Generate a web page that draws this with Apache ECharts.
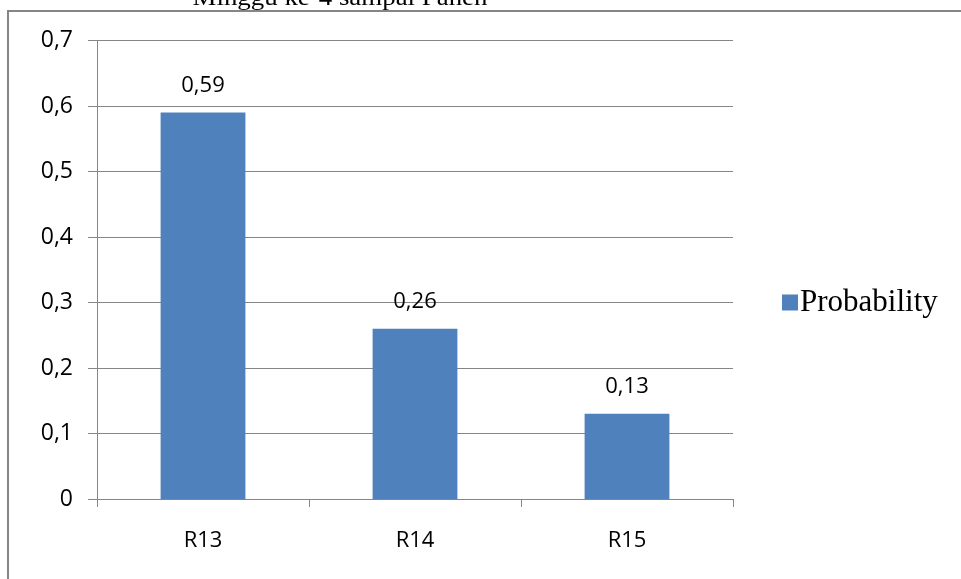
<!DOCTYPE html>
<html>
<head>
<meta charset="utf-8">
<title>Probability</title>
<script src="https://cdn.jsdelivr.net/npm/echarts@6/dist/echarts.min.js"></script>
<style>
  html, body { margin: 0; padding: 0; background: #ffffff; }
  #chart { width: 961px; height: 579px; }
</style>
</head>
<body>
<div id="chart"></div>
<script>
// Chart data
const categories = ['R13', 'R14', 'R15'];
const probability = [0.59, 0.26, 0.13];
const yTicks = [0, 0.1, 0.2, 0.3, 0.4, 0.5, 0.6, 0.7];
const titleText = 'Minggu ke-4 sampai Panen';
const seriesName = 'Probability';

const gray = '#868686';
const barColor = '#4F81BD';
const sansFont = '"Open Sans", "Noto Sans", sans-serif';
const serifFont = '"Liberation Serif", "DejaVu Serif", serif';

// decimal comma formatting
const fmt = v => String(Math.round(v * 100) / 100).replace('.', ',');

const chart = echarts.init(document.getElementById('chart'), null, { renderer: 'canvas' });

chart.setOption({
  backgroundColor: '#ffffff',
  animation: false,
  graphic: [
    {
      type: 'rect',
      silent: true,
      shape: { x: 8, y: 11, width: 1200, height: 1200 },
      style: { fill: 'none', stroke: gray, lineWidth: 2 },
      z: 0
    },
    {
      type: 'text',
      silent: true,
      x: 340,
      y: 11,
      scaleX: 1.12,
      style: {
        text: titleText,
        font: '24px ' + serifFont,
        fill: '#000000',
        align: 'center',
        verticalAlign: 'bottom'
      },
      z: 10
    }
  ],
  grid: {
    left: 97,
    right: 228,
    top: 40.5,
    bottom: 80
  },
  legend: {
    orient: 'vertical',
    left: 777,
    top: 282,
    icon: 'rect',
    itemWidth: 16,
    itemHeight: 16,
    itemGap: 10,
    textStyle: {
      fontFamily: serifFont,
      fontSize: 31,
      color: '#000000',
      padding: [0, 0, 0, -3]
    },
    data: [seriesName]
  },
  xAxis: {
    type: 'category',
    data: categories,
    axisLine: { show: true, lineStyle: { color: gray, width: 1 } },
    axisTick: { show: true, length: 8, lineStyle: { color: gray } },
    axisLabel: {
      margin: 31,
      fontFamily: sansFont,
      fontSize: 22,
      color: '#000000'
    },
    splitLine: { show: false }
  },
  yAxis: {
    type: 'value',
    min: yTicks[0],
    max: yTicks[yTicks.length - 1],
    interval: 0.1,
    axisLine: { show: true, lineStyle: { color: gray, width: 1 } },
    axisTick: { show: true, length: 9, lineStyle: { color: gray } },
    axisLabel: {
      margin: 24,
      fontFamily: sansFont,
      fontSize: 23,
      color: '#000000',
      formatter: v => fmt(v)
    },
    splitLine: { show: true, lineStyle: { color: gray, width: 1 } }
  },
  series: [
    {
      name: seriesName,
      type: 'bar',
      data: probability,
      barWidth: '40%',
      itemStyle: { color: barColor },
      label: {
        show: true,
        position: 'top',
        distance: 16,
        fontFamily: sansFont,
        fontSize: 22,
        color: '#000000',
        formatter: p => fmt(p.value)
      }
    }
  ]
});
</script>
</body>
</html>
